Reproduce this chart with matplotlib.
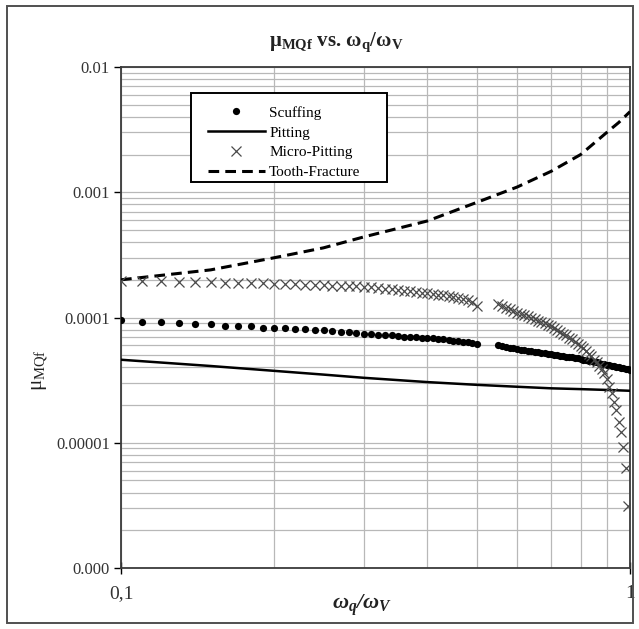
import numpy as np
import matplotlib
matplotlib.use("Agg")
import matplotlib.pyplot as plt
from matplotlib.patches import Rectangle
from matplotlib.ticker import LogLocator, NullFormatter

plt.rcParams['font.family'] = ['Liberation Serif', 'DejaVu Serif']
plt.rcParams['mathtext.fontset'] = 'custom'
plt.rcParams['mathtext.rm'] = 'Liberation Serif'
plt.rcParams['mathtext.it'] = 'Liberation Serif:italic'
plt.rcParams['mathtext.bf'] = 'Liberation Serif:bold'
plt.rcParams['mathtext.bfit'] = 'Liberation Serif:italic:bold'

# omega_q / omega_V sample points (step 0.01, a gap between 0.50 and 0.55)
x_left = [round(0.10 + 0.01 * i, 2) for i in range(41)]    # 0.10 .. 0.50
x_right = [round(0.55 + 0.01 * i, 2) for i in range(46)]   # 0.55 .. 1.00

scuff_left = [9.5, 9.2, 9.2, 9.1, 8.9, 8.9, 8.6, 8.6, 8.6, 8.3,
              8.3, 8.3, 8.1, 8.1, 8.0, 7.9, 7.8, 7.7, 7.6, 7.5,
              7.45, 7.4, 7.3, 7.25, 7.2, 7.1, 7.05, 7.0, 6.95, 6.9,
              6.85, 6.8, 6.75, 6.7, 6.65, 6.55, 6.5, 6.4, 6.35, 6.25,
              6.2]
scuff_right = [6.0, 5.9, 5.85, 5.75, 5.7, 5.6, 5.55, 5.5, 5.45, 5.4,
               5.35, 5.3, 5.25, 5.2, 5.15, 5.1, 5.05, 5.0, 4.96, 4.92,
               4.88, 4.84, 4.8, 4.75, 4.71, 4.67, 4.62, 4.57, 4.52, 4.47,
               4.42, 4.38, 4.34, 4.29, 4.25, 4.2, 4.16, 4.12, 4.08, 4.04,
               4.0, 3.97, 3.94, 3.91, 3.87, 3.84]   # x 1e-5

micro_left = [1.96, 1.95, 1.94, 1.93, 1.92, 1.91, 1.90, 1.89, 1.88, 1.87,
              1.86, 1.85, 1.84, 1.83, 1.82, 1.81, 1.80, 1.79, 1.78, 1.77,
              1.76, 1.74, 1.72, 1.70, 1.68, 1.66, 1.64, 1.62, 1.60, 1.58,
              1.56, 1.54, 1.52, 1.50, 1.48, 1.46, 1.43, 1.40, 1.37, 1.32,
              1.24]
micro_right = [1.27, 1.24, 1.20, 1.16, 1.13, 1.09, 1.07, 1.04, 1.02, 0.99,
               0.97, 0.94, 0.92, 0.90, 0.87, 0.85, 0.82, 0.79, 0.77, 0.74,
               0.72, 0.69, 0.67, 0.64, 0.62, 0.59, 0.57, 0.54, 0.51, 0.49,
               0.46, 0.44, 0.41, 0.39, 0.36, 0.32, 0.28, 0.25, 0.213, 0.184,
               0.147, 0.122, 0.093, 0.063, 0.031]   # x 1e-4, ends at 0.99

x_line = [0.10, 0.15, 0.20, 0.25, 0.30, 0.40, 0.50, 0.60, 0.70, 0.80, 0.90, 0.95, 1.00]
pitting = [4.6, 4.1, 3.75, 3.5, 3.3, 3.05, 2.9, 2.8, 2.72, 2.68, 2.64, 2.62, 2.6]       # x 1e-5
tooth = [2.0, 2.4, 3.0, 3.6, 4.4, 5.9, 8.3, 11.0, 14.7, 20.0, 30.0, 36.0, 44.0]         # x 1e-4

y_ticks = [1e-6, 1e-5, 1e-4, 1e-3, 1e-2]
y_labels = ['0.000', '0.00001', '0.0001', '0.001', '0.01']
x_ticks = [0.1, 1]
x_labels = ['0,1', '1']

fig = plt.figure(figsize=(6.39, 6.29), dpi=100)
fig.patch.set_facecolor('white')
fig.patches.append(Rectangle((7 / 639, 1 - 623 / 629), 626 / 639, 617 / 629,
                             transform=fig.transFigure, fill=False,
                             edgecolor='#505050', lw=1.4))

ax = fig.add_axes([121 / 639, 1 - 568 / 629, 509 / 639, 501 / 629])
ax.set_xscale('log')
ax.set_yscale('log')
ax.set_xlim(0.1, 1)
ax.set_ylim(1e-6, 1e-2)

ax.plot(x_left, np.array(scuff_left) * 1e-5, 'o', color='black', ms=5.2, mew=0, label='Scuffing', zorder=4)
ax.plot(x_right, np.array(scuff_right) * 1e-5, 'o', color='black', ms=5.2, mew=0, zorder=4)
ax.plot(x_line, np.array(pitting) * 1e-5, '-', color='black', lw=1.8, label='Pitting', zorder=3)
ax.plot(x_left, np.array(micro_left) * 1e-4, 'x', color='#4a4a4a', ms=7.5, mew=0.9,
        label='Micro-Pitting', zorder=4)
ax.plot(x_right[:-1], np.array(micro_right) * 1e-4, 'x', color='#4a4a4a', ms=7.5, mew=0.9, zorder=4)
ax.plot(x_line, np.array(tooth) * 1e-4, color='black', lw=2.2, dashes=(3.5, 2),
        label='Tooth-Fracture', zorder=3)

ax.set_yticks(y_ticks)
ax.set_yticklabels(y_labels)
ax.set_xticks(x_ticks)
ax.set_xticklabels(x_labels)
ax.xaxis.set_minor_locator(LogLocator(base=10, subs=np.arange(2, 10)))
ax.yaxis.set_minor_locator(LogLocator(base=10, subs=np.arange(2, 10)))
ax.xaxis.set_minor_formatter(NullFormatter())
ax.yaxis.set_minor_formatter(NullFormatter())
ax.tick_params(which='minor', length=0)
ax.tick_params(axis='y', which='major', direction='out', length=5, width=1, labelsize=12, pad=3,
               labelcolor='#333333')
ax.tick_params(axis='x', which='major', direction='inout', length=8, width=1, labelsize=14, pad=8,
               labelcolor='#333333')
ax.grid(True, which='both', color='#b8b8b8', lw=0.9)
ax.set_axisbelow(True)
for sp in ax.spines.values():
    sp.set_color('#3a3a3a')
    sp.set_linewidth(1.3)

# legend box drawn separately: it is wider than the entries need
ax.add_patch(Rectangle((191 / 639, 1 - 182 / 629), 196 / 639, 89 / 629,
                       transform=fig.transFigure, facecolor='white',
                       edgecolor='black', lw=1.4, zorder=5, clip_on=False))
leg = ax.legend(loc='upper left', bbox_to_anchor=(205 / 639, 1 - 103 / 629),
                bbox_transform=fig.transFigure, fontsize=11, numpoints=1,
                handlelength=3.7, handletextpad=0.3, borderpad=0.2,
                labelspacing=0.4, borderaxespad=0, frameon=False)
leg.set_zorder(6)

fig.text(336 / 639, 1 - 42 / 629, r'$\mathbf{\mu_{MQf}}$ vs. $\mathbf{\omega_q/\omega_V}$',
         ha='center', va='center', fontsize=15, fontweight='bold', color='#222222')
fig.text(362 / 639, 1 - 605 / 629, r'$\mathbfit{\omega_q/\omega_V}$',
         ha='center', va='center', fontsize=16, color='#222222')
fig.text(40 / 639, 1 - 370 / 629, r'$\mathrm{\mu_{MQf}}$', rotation=90,
         ha='center', va='center', fontsize=15, color='#222222')

fig.savefig('out.png', dpi=100, facecolor='white')
